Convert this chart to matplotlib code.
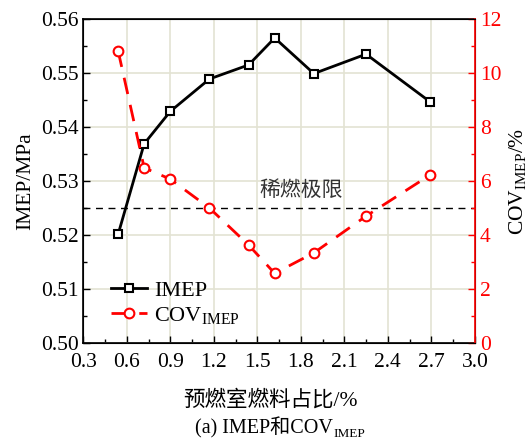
import matplotlib
matplotlib.use("Agg")
import matplotlib.pyplot as plt
from matplotlib.ticker import MultipleLocator

plt.rcParams['font.family'] = ['Liberation Serif', 'Noto Sans CJK SC']
plt.rcParams['mathtext.fontset'] = 'custom'
plt.rcParams['mathtext.rm'] = 'Liberation Serif'
plt.rcParams['mathtext.it'] = 'Liberation Serif:italic'

ratio = [0.54, 0.72, 0.90, 1.17, 1.44, 1.62, 1.89, 2.25, 2.69]
imep = [0.5201, 0.5369, 0.5429, 0.5489, 0.5515, 0.5565, 0.5499, 0.5535, 0.5447]
cov = [10.83, 6.49, 6.07, 5.00, 3.63, 2.58, 3.34, 4.70, 6.22]
lean_limit = 5.0
x_ticks = [0.3, 0.6, 0.9, 1.2, 1.5, 1.8, 2.1, 2.4, 2.7, 3.0]

fig = plt.figure(figsize=(5.27, 4.43), dpi=100)
ax = fig.add_axes([0.158, 0.2257, 0.743, 0.7313])
ax2 = ax.twinx()

grid_c = '#e3e3d3'
ax.set_xlim(0.3, 3.0)
ax.set_ylim(0.50, 0.56)
ax2.set_ylim(0, 12)
ax.set_xticks(x_ticks)
ax.set_xticklabels([f"{v:.1f}" for v in x_ticks])
ax.xaxis.set_minor_locator(MultipleLocator(0.15))
ax.yaxis.set_major_locator(MultipleLocator(0.01))
ax.yaxis.set_minor_locator(MultipleLocator(0.005))
ax.yaxis.set_major_formatter(matplotlib.ticker.FormatStrFormatter('%.2f'))
ax2.yaxis.set_major_locator(MultipleLocator(2))
ax2.yaxis.set_minor_locator(MultipleLocator(1))
ax.grid(True, which='major', color=grid_c, linewidth=1.2)
ax.set_axisbelow(True)

ax.tick_params(which='both', direction='in', labelsize=15.5, top=False)
ax.tick_params(which='major', length=5, width=1)
ax.tick_params(which='minor', length=3, width=1)
ax.tick_params(axis='x', which='major', pad=7)
ax2.tick_params(which='both', direction='in', colors='red', labelsize=15.5)
ax2.tick_params(which='major', length=5, width=1)
ax2.tick_params(which='minor', length=3, width=1)
ax2.spines['right'].set_color('red')
for s in ['left', 'top', 'bottom']:
    ax.spines[s].set_linewidth(1.2)
ax2.spines['right'].set_linewidth(1.2)

ax2.axhline(lean_limit, color='black', linestyle=(0, (5, 4)), linewidth=1.0, zorder=1)
ax2.text(1.80, 5.25, '稀燃极限', fontsize=15, ha='center', va='bottom', color='#333333')

l1, = ax.plot(ratio, imep, color='black', linewidth=2, marker='s', markersize=5.5,
              markerfacecolor='white', markeredgecolor='black', markeredgewidth=1.5,
              label='IMEP', zorder=5)
l2, = ax2.plot(ratio, cov, color='red', linewidth=2, linestyle=(0, (6, 4)), marker='o',
               markersize=7, markerfacecolor='white', markeredgecolor='red',
               markeredgewidth=1.5, label=r'COV$_{\mathrm{IMEP}}$', zorder=5)

ax.set_ylabel('IMEP/MPa', fontsize=15.5)
ax2.set_ylabel(r'COV$_{\mathrm{IMEP}}$/%', fontsize=15.5, color='black')
ax.set_xlabel('预燃室燃料占比/%', fontsize=15.5)
ax.xaxis.set_label_coords(0.477, -0.145)

cap = fig.text(0.50, 0.010, '(a) IMEP和COV', ha='center', va='bottom', fontsize=14.5)
ax.annotate('IMEP', xy=(1, 0), xycoords=cap, xytext=(0.5, -1), textcoords='offset points',
            ha='left', va='bottom', fontsize=9.5, annotation_clip=False)

leg = ax.legend(handles=[l1, l2], loc='lower left', bbox_to_anchor=(0.02, -0.01),
                frameon=False, fontsize=16, handlelength=1.6, handletextpad=0.35,
                labelspacing=0.2)

fig.savefig('out.png', dpi=100)
